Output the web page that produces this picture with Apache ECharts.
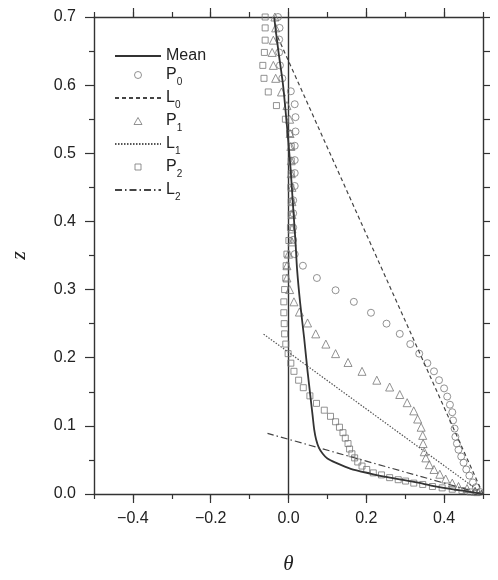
<!DOCTYPE html>
<html><head><meta charset="utf-8">
<script src="https://cdn.jsdelivr.net/npm/echarts@6/dist/echarts.min.js"></script>
<style>html,body{margin:0;padding:0;background:#fff}#c{width:498px;height:580px}</style>
</head><body><div id="c"></div>
<script>
// ---- data (theta, z) ----
const meanTheta = [-0.037,-0.026,-0.014,-0.004,0.005,0.012,0.018,0.022,0.030,0.040,0.049,0.057,0.062,0.066,0.071,0.078,0.088,0.100,0.121,0.160,0.210,0.250,0.290,0.330,0.370,0.420,0.460,0.500];
const meanZ     = [0.700,0.650,0.600,0.540,0.480,0.420,0.370,0.330,0.280,0.230,0.180,0.140,0.115,0.095,0.080,0.068,0.059,0.052,0.046,0.037,0.030,0.025,0.021,0.017,0.012,0.007,0.004,0.000];

const p0Z     = [0.700,0.684,0.667,0.648,0.629,0.610,0.591,0.572,0.553,0.532,0.511,0.490,0.471,0.452,0.431,0.412,0.391,0.373,0.352,0.335,0.317,0.299,0.282,0.266,0.250,0.235,0.220,0.206,0.192,0.180,0.167,0.155,0.143,0.131,0.120,0.108,0.096,0.084,0.074,0.065,0.055,0.046,0.036,0.027,0.017,0.010,0.003];
const p0Theta = [-0.027,-0.023,-0.024,-0.024,-0.022,-0.016,0.006,0.016,0.018,0.018,0.016,0.016,0.016,0.016,0.012,0.012,0.012,0.012,0.016,0.037,0.073,0.121,0.168,0.212,0.252,0.286,0.313,0.336,0.357,0.374,0.387,0.400,0.408,0.415,0.421,0.423,0.427,0.429,0.433,0.437,0.444,0.450,0.457,0.465,0.474,0.482,0.492];

const p1Z     = [0.700,0.684,0.666,0.648,0.629,0.610,0.590,0.570,0.550,0.529,0.510,0.489,0.470,0.450,0.429,0.410,0.389,0.370,0.352,0.335,0.317,0.300,0.282,0.267,0.251,0.235,0.220,0.206,0.193,0.180,0.167,0.157,0.146,0.134,0.122,0.110,0.098,0.086,0.074,0.062,0.053,0.043,0.036,0.029,0.022,0.016,0.011,0.008,0.004];
const p1Theta = [-0.035,-0.033,-0.039,-0.042,-0.039,-0.033,-0.018,-0.004,0.003,0.004,0.006,0.007,0.007,0.009,0.009,0.009,0.009,0.009,0.000,-0.004,-0.004,0.003,0.014,0.028,0.049,0.070,0.096,0.121,0.153,0.189,0.227,0.260,0.286,0.305,0.322,0.332,0.341,0.345,0.346,0.349,0.353,0.362,0.374,0.389,0.404,0.421,0.437,0.459,0.480];

const p2Z     = [0.700,0.684,0.666,0.648,0.629,0.610,0.590,0.570,0.550,0.529,0.510,0.489,0.470,0.450,0.429,0.410,0.391,0.372,0.352,0.335,0.317,0.300,0.282,0.266,0.250,0.235,0.220,0.206,0.192,0.180,0.167,0.156,0.144,0.133,0.123,0.114,0.106,0.098,0.090,0.082,0.074,0.066,0.059,0.053,0.047,0.041,0.036,0.031,0.028,0.024,0.021,0.019,0.016,0.014,0.011,0.009,0.007,0.005,0.003,0.002];
const p2Theta = [-0.060,-0.060,-0.060,-0.062,-0.066,-0.063,-0.052,-0.031,-0.008,0.003,0.007,0.007,0.007,0.006,0.007,0.007,0.005,0.001,-0.004,-0.006,-0.007,-0.010,-0.012,-0.012,-0.011,-0.010,-0.007,-0.001,0.006,0.014,0.026,0.038,0.055,0.072,0.092,0.108,0.121,0.131,0.140,0.146,0.153,0.157,0.163,0.170,0.178,0.189,0.201,0.218,0.239,0.260,0.282,0.301,0.322,0.345,0.370,0.395,0.421,0.446,0.467,0.484];

const l0Theta = [0.500,-0.035];
const l0Z     = [0.000,0.680];
const l1Theta = [0.500,-0.065];
const l1Z     = [0.000,0.235];
const l2Theta = [0.500,-0.054];
const l2Z     = [0.000,0.089];
const zeroTheta = [0.0,0.0];
const zeroZ     = [0.0,0.7];

const xLabelValues = [-0.4,-0.2,0.0,0.2,0.4];
const seriesNames = ['Mean','P0','L0','P1','L1','P2','L2'];

const pair = (a,b) => a.map((v,i)=>[v,b[i]]);
const fmt = v => (v < 0 ? '\u2212' : '') + Math.abs(v).toFixed(1);

const FONT = 'Liberation Sans, Arial, sans-serif';
const AX = '#333';
const MK = '#777';
const HIDE = {color:'rgba(0,0,0,0)', borderWidth:0, opacity:0};
const HOLLOW = {color:'rgba(255,255,255,0)', borderColor:MK, borderWidth:1};

// legend icons in a 46x7 box (invisible moveTo corners fix the box)
const legendIcons = {
  P1:'path://M0,0M46,7M19,7L23,0L27,7Z',
  P2:'path://M0,0M46,7M20,0.5L26,0.5L26,6.5L20,6.5Z'
};
const legendData = seriesNames.map(n => {
  const item = {name:n};
  if (legendIcons[n]) item.icon = legendIcons[n];
  if (n[0] === 'P') item.itemStyle = {color:'rgba(255,255,255,0)', borderColor:MK, borderWidth:1};
  return item;
});

const baseX = {type:'value', min:-0.5, max:0.5, interval:0.1, splitLine:{show:false}};
const chart = echarts.init(document.getElementById('c'), null, {renderer:'canvas'});
chart.setOption({
  animation:false,
  backgroundColor:'#fff',
  grid:{left:88, right:15, top:17, bottom:73},
  xAxis:[
    Object.assign({}, baseX, {position:'bottom', name:'\u03b8', nameLocation:'middle', nameGap:60,
      nameTextStyle:{fontFamily:'Liberation Serif, serif', fontStyle:'italic', fontSize:21, color:'#222'},
      axisLine:{onZero:false, lineStyle:{color:AX, width:1.4}},
      axisTick:{length:5, lineStyle:{color:AX, width:1.2}},
      axisLabel:{customValues:xLabelValues, formatter:fmt, margin:17, fontSize:16, color:'#222', fontFamily:FONT}}),
    Object.assign({}, baseX, {position:'bottom', axisLine:{show:false, onZero:false},
      axisTick:{customValues:xLabelValues, length:9, lineStyle:{color:AX, width:1.2}},
      axisLabel:{show:false}}),
    Object.assign({}, baseX, {position:'top', axisLine:{onZero:false, lineStyle:{color:AX, width:1.4}},
      axisTick:{length:5, lineStyle:{color:AX, width:1.2}}, axisLabel:{show:false}}),
    Object.assign({}, baseX, {position:'top', axisLine:{show:false, onZero:false},
      axisTick:{customValues:xLabelValues, length:9, lineStyle:{color:AX, width:1.2}}, axisLabel:{show:false}})
  ],
  yAxis:[
    {type:'value', min:0, max:0.7, interval:0.1, position:'left', splitLine:{show:false},
      name:'z', nameLocation:'middle', nameGap:64, nameRotate:90,
      nameTextStyle:{fontFamily:'Liberation Serif, serif', fontStyle:'italic', fontSize:22, color:'#222'},
      axisLine:{onZero:false, lineStyle:{color:AX, width:1.4}},
      axisTick:{length:9, lineStyle:{color:AX, width:1.2}},
      minorTick:{show:true, splitNumber:2, length:5, lineStyle:{color:AX, width:1.2}},
      axisLabel:{formatter:v=>v.toFixed(1), margin:18, fontSize:16, color:'#222', fontFamily:FONT}},
    {type:'value', min:0, max:0.7, interval:0.1, position:'right', splitLine:{show:false},
      axisLine:{onZero:false, lineStyle:{color:AX, width:1.4}},
      axisTick:{length:7, lineStyle:{color:AX, width:1.2}},
      minorTick:{show:true, splitNumber:2, length:7, lineStyle:{color:AX, width:1.2}},
      axisLabel:{show:false}}
  ],
  legend:{
    orient:'vertical', left:114, top:48, padding:0, itemWidth:46, itemHeight:7, itemGap:3,
    data:legendData,
    formatter: n => n==='Mean' ? '{m|Mean}' : '{m|'+n[0]+'}{s|'+n.slice(1)+'}',
    textStyle:{color:'#222', rich:{
      m:{fontSize:16, lineHeight:24, fontFamily:FONT, color:'#222'},
      s:{fontSize:10, lineHeight:10, verticalAlign:'bottom', fontFamily:FONT, color:'#222'}}}
  },
  series:[
    {name:'zero', type:'line', data:pair(zeroTheta,zeroZ), symbol:'none', silent:true,
      lineStyle:{color:AX, width:1.4}, z:1},
    {name:'Mean', type:'line', data:pair(meanTheta,meanZ), symbol:'none', smooth:0.25,
      lineStyle:{color:'#333', width:1.8}, itemStyle:HIDE, z:3},
    {name:'P0', type:'scatter', data:pair(p0Theta,p0Z), symbol:'circle', symbolSize:7, itemStyle:HOLLOW},
    {name:'L0', type:'line', data:pair(l0Theta,l0Z), symbol:'none',
      lineStyle:{color:'#444', width:1.2, type:[4,3]}, itemStyle:HIDE},
    {name:'P1', type:'scatter', data:pair(p1Theta,p1Z), symbol:'triangle', symbolSize:8, itemStyle:HOLLOW},
    {name:'L1', type:'line', data:pair(l1Theta,l1Z), symbol:'none',
      lineStyle:{color:'#555', width:1.2, type:[1.5,1.5]}, itemStyle:HIDE},
    {name:'P2', type:'scatter', data:pair(p2Theta,p2Z), symbol:'rect', symbolSize:6, itemStyle:HOLLOW},
    {name:'L2', type:'line', data:pair(l2Theta,l2Z), symbol:'none',
      lineStyle:{color:'#444', width:1.2, type:[7,3,1.5,3]}, itemStyle:HIDE}
  ]
});
</script></body></html>
